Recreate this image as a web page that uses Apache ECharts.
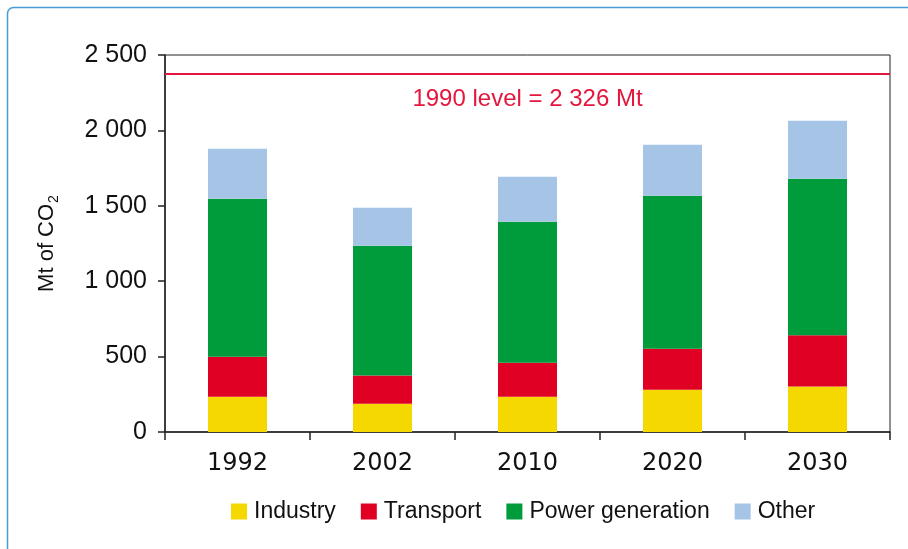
<!DOCTYPE html>
<html>
<head>
<meta charset="utf-8">
<script src="https://cdn.jsdelivr.net/npm/echarts@6/dist/echarts.min.js"></script>
<style>
  html, body { margin: 0; padding: 0; background: #fff; }
  #chart { width: 908px; height: 549px; }
</style>
</head>
<body>
<div id="chart"></div>
<script>
// data
const years = ['1992', '2002', '2010', '2020', '2030'];
const industry = [234, 188, 234, 281, 302];
const transport = [265, 187, 226, 271, 339];
const powerGen = [1048, 860, 935, 1015, 1039];
const other = [332, 252, 298, 338, 384];
const level1990 = 2374; // where the line is drawn in the picture
const level1990Label = '1990 level = 2 326 Mt';

const chart = echarts.init(document.getElementById('chart'));

const fmt = v => v >= 1000 ? Math.floor(v / 1000) + ' ' + String(v % 1000).padStart(3, '0') : String(v);

function barSeries(name, data, color) {
    return {
        name: name,
        type: 'bar',
        stack: 'co2',
        barWidth: 59,
        data: data,
        itemStyle: { color: color },
        emphasis: { disabled: true }
    };
}

const series = [
    barSeries('Industry', industry, '#F5D800'),
    barSeries('Transport', transport, '#E00024'),
    barSeries('Power generation', powerGen, '#009C3B'),
    barSeries('Other', other, '#A5C4E6')
];
series[3].markLine = {
    silent: true,
    symbol: 'none',
    lineStyle: { color: '#E3173E', width: 2, type: 'solid' },
    label: {
        show: true,
        position: 'insideMiddleBottom',
        distance: 13,
        formatter: level1990Label,
        color: '#E3173E',
        fontFamily: 'Liberation Sans',
        fontSize: 24
    },
    data: [{ yAxis: level1990 }]
};

const option = {
    animation: false,
    backgroundColor: '#fff',
    graphic: [{
        type: 'rect',
        shape: { x: 7.5, y: 7.5, width: 1000, height: 1000, r: 6 },
        style: { fill: 'none', stroke: '#4A9AD4', lineWidth: 1.5 },
        silent: true
    }],
    grid: {
        left: 165, top: 55, right: 18, bottom: 117,
        show: true, borderColor: '#222', borderWidth: 1
    },
    legend: {
        left: 231, top: 500, padding: 0,
        icon: 'rect',
        itemWidth: 16, itemHeight: 16, itemGap: 25,
        textStyle: { fontFamily: 'Liberation Sans', fontSize: 23, color: '#111', padding: [0, 0, 0, 2] },
        data: ['Industry', 'Transport', 'Power generation', 'Other']
    },
    xAxis: {
        type: 'category',
        data: years,
        axisLine: { lineStyle: { color: '#222', width: 1.5 } },
        axisTick: { show: true, length: 8, lineStyle: { color: '#222', width: 1.5 } },
        axisLabel: { margin: 20, fontFamily: 'DejaVu Sans', fontSize: 24, color: '#111' }
    },
    yAxis: {
        type: 'value',
        min: 0, max: 2500, interval: 500,
        name: '{a|Mt of CO}{b|2}',
        nameLocation: 'middle',
        nameGap: 104,
        nameRotate: 90,
        nameTextStyle: {
            rich: {
                a: { fontFamily: 'Liberation Sans', fontSize: 22, color: '#111', lineHeight: 28, verticalAlign: 'middle' },
                b: { fontFamily: 'Liberation Sans', fontSize: 14, color: '#111', lineHeight: 28, verticalAlign: 'bottom', padding: [10, 0, 0, 1] }
            }
        },
        splitLine: { show: false },
        axisLine: { show: true, lineStyle: { color: '#222', width: 1.5 } },
        axisTick: { show: true, length: 7, lineStyle: { color: '#222', width: 1.5 } },
        axisLabel: {
            margin: 18,
            fontFamily: 'Liberation Sans', fontSize: 25, color: '#111',
            formatter: fmt
        }
    },
    series: series
};

chart.setOption(option);
</script>
</body>
</html>
